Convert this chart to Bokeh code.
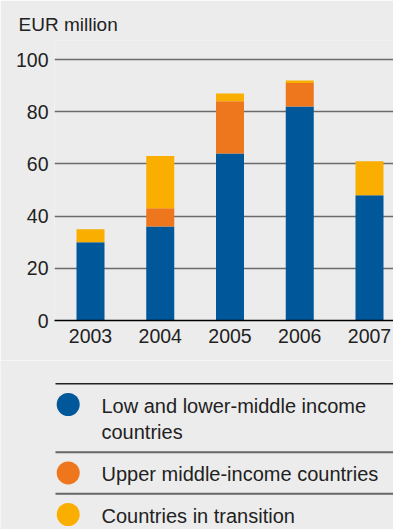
from bokeh.plotting import figure
from bokeh.models import ColumnDataSource, Range1d, FixedTicker
from bokeh.layouts import column
from bokeh.core.properties import value
from bokeh.embed import file_html
from bokeh.resources import INLINE

# ---- data ----
years = ["2003", "2004", "2005", "2006", "2007"]
low_income = [30, 36, 64, 82, 48]
upper_middle = [0, 7, 20, 9, 0]
transition = [5, 20, 3, 1, 13]
y_ticks = [0, 20, 40, 60, 80, 100]
series_names = ["Low and lower-middle income\ncountries",
                "Upper middle-income countries",
                "Countries in transition"]

# ---- style ----
BG = "#ececec"
COLORS = ["#00579a", "#ee761d", "#f9ae00"]
FONT = "Liberation Sans"
TXT = "#222222"

W = 393
H1 = 360
H2 = 169
FRAME_TOP = 40
FRAME_H = 280
PX_PER_UNIT = 2.61
BAR_STEP = 69.75
FRAME_LEFT = 54
frame_w = W - FRAME_LEFT
x_start = (FRAME_LEFT - 90) / BAR_STEP

xs = list(range(len(years)))
src = ColumnDataSource(dict(x=xs, low=low_income, upper=upper_middle, trans=transition))

p = figure(width=W, height=H1, output_backend="svg", toolbar_location=None,
           x_range=Range1d(x_start, x_start + frame_w / BAR_STEP),
           y_range=Range1d(0, FRAME_H / PX_PER_UNIT),
           min_border_left=FRAME_LEFT, min_border_right=0,
           min_border_top=FRAME_TOP, min_border_bottom=H1 - FRAME_TOP - FRAME_H,
           background_fill_color=BG, border_fill_color=BG, outline_line_color=None,
           frame_align=False)

p.vbar_stack(["low", "upper", "trans"], x="x", width=28 / BAR_STEP, color=COLORS,
             line_color=None, source=src)

p.title.text = "EUR million"
p.title.align = "left"
p.title.offset = 18 - FRAME_LEFT
p.title.text_font = FONT
p.title.text_font_size = "19px"
p.title.text_font_style = "normal"
p.title.text_color = TXT
p.title.standoff = 11

p.xgrid.visible = False
p.ygrid.ticker = FixedTicker(ticks=y_ticks[1:])
p.ygrid.grid_line_color = "#6a6a6a"
p.ygrid.grid_line_width = 1.5

p.yaxis.ticker = FixedTicker(ticks=y_ticks)
p.yaxis.axis_line_color = None
p.yaxis.major_tick_line_color = None
p.yaxis.minor_tick_line_color = None
p.yaxis.major_tick_out = 0
p.yaxis.minor_tick_out = 0
p.yaxis.major_label_standoff = 6
p.yaxis.major_label_text_font = FONT
p.yaxis.major_label_text_font_size = "19.5px"
p.yaxis.major_label_text_color = TXT

p.xaxis.ticker = FixedTicker(ticks=xs)
p.xaxis.major_label_overrides = {i: y for i, y in zip(xs, years)}
p.xaxis.axis_line_color = "black"
p.xaxis.axis_line_width = 1.5
p.xaxis.major_tick_line_color = None
p.xaxis.minor_tick_line_color = None
p.xaxis.major_tick_out = 0
p.xaxis.minor_tick_out = 0
p.xaxis.major_label_standoff = 8
p.xaxis.major_label_text_font = FONT
p.xaxis.major_label_text_font_size = "19.5px"
p.xaxis.major_label_text_color = TXT

# ---- legend figure (1 data unit = 1 px, y downwards) ----
p2 = figure(width=W, height=H2, output_backend="svg", toolbar_location=None,
            x_axis_type=None, y_axis_type=None,
            x_range=Range1d(0, W), y_range=Range1d(H2, 0),
            min_border=0, background_fill_color=BG, border_fill_color=BG,
            outline_line_color=None, frame_align=False)
p2.grid.visible = False

seps = [23.3, 91.7, 133.3]
p2.segment(x0=[55] * 3, y0=seps, x1=[W] * 3, y1=seps,
           line_color=["#222222", "#666666", "#666666"], line_width=[1.5, 2, 2])
circle_y = [s + 20.7 for s in seps]
p2.scatter(x=[67.7] * 3, y=circle_y, size=23, color=COLORS, line_color=None)

tx, ty, tt = [], [], []
for s, name in zip(seps, series_names):
    for j, line in enumerate(name.split("\n")):
        tx.append(101)
        ty.append(s + 22 + j * 26)
        tt.append(line)
p2.text(x=tx, y=ty, text=tt, text_baseline="middle", text_align="left",
        text_font=value(FONT), text_font_size="20px", text_color=TXT)

layout = column(p, p2, spacing=0)
open("out.html", "w").write(file_html(layout, INLINE))
